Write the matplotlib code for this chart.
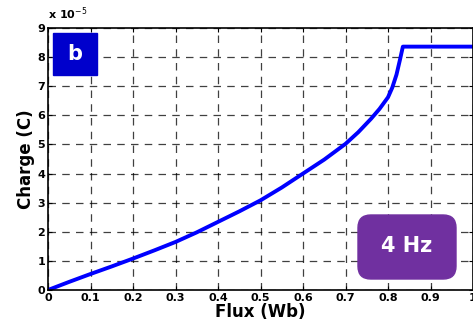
import matplotlib
matplotlib.use("Agg")
import matplotlib.pyplot as plt
from matplotlib.patches import FancyBboxPatch

flux = [0, 0.05, 0.1, 0.15, 0.2, 0.25, 0.3, 0.35, 0.4, 0.45, 0.5, 0.55, 0.6,
        0.65, 0.7, 0.73, 0.76, 0.78, 0.8, 0.81, 0.82, 0.828, 0.835, 0.9, 1.0]
charge = [0, 0.28, 0.55, 0.81, 1.08, 1.36, 1.65, 1.98, 2.34, 2.7, 3.08, 3.52, 4.0,
          4.48, 5.02, 5.42, 5.88, 6.22, 6.62, 6.95, 7.4, 7.9, 8.36, 8.36, 8.36]
xticks = [0, 0.1, 0.2, 0.3, 0.4, 0.5, 0.6, 0.7, 0.8, 0.9, 1]
xticklabels = ["0", "0.1", "0.2", "0.3", "0.4", "0.5", "0.6", "0.7", "0.8", "0.9", "1"]
yticks = list(range(10))

fig = plt.figure(figsize=(4.73, 3.27), dpi=100)
ax = fig.add_axes([48 / 473, 37 / 327, 425 / 473, 262 / 327])

ax.plot(flux, charge, color="#0000ff", lw=2.8, solid_capstyle="round")
ax.set_xlim(0, 1)
ax.set_ylim(0, 9)
ax.set_xticks(xticks)
ax.set_xticklabels(xticklabels, fontweight="bold", fontsize=8)
ax.set_yticks(yticks)
ax.set_yticklabels([str(t) for t in yticks], fontweight="bold", fontsize=8)
ax.tick_params(direction="in", top=True, right=True, length=3, pad=2)
ax.grid(True, color="black", linestyle=(0, (6, 5)), lw=0.9, alpha=0.75)
for s in ax.spines.values():
    s.set_linewidth(1.2)

ax.set_xlabel("Flux (Wb)", fontweight="bold", fontsize=12, labelpad=0)
ax.set_ylabel("Charge (C)", fontweight="bold", fontsize=12, labelpad=2)

fig.text(48 / 473, 1 - 22 / 327, r"x 10$^{-5}$", fontsize=8, fontweight="bold",
         ha="left", va="bottom")

# "b" label box
ax.add_patch(plt.Rectangle((5 / 425, 1 - 47 / 262), 44 / 425, 42 / 262,
                           transform=ax.transAxes, color="#0000cc", zorder=5))
ax.text(27 / 425, 1 - 26 / 262, "b", transform=ax.transAxes, color="white",
        fontsize=15, fontweight="bold", ha="center", va="center", zorder=6)

# "4 Hz" box
ax.add_patch(FancyBboxPatch((310 / 425, 11 / 262), 98 / 425, 64 / 262,
                            boxstyle="round,pad=0,rounding_size=0.03",
                            transform=ax.transAxes, color="#7030a0", zorder=5,
                            mutation_aspect=425 / 262))
ax.text(359 / 425, 44 / 262, "4 Hz", transform=ax.transAxes, color="white",
        fontsize=15, fontweight="bold", ha="center", va="center", zorder=6)

fig.savefig("out.png", dpi=100)
